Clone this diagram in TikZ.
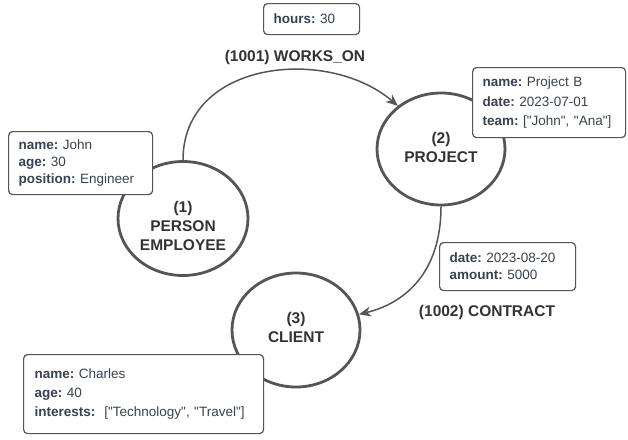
\documentclass[tikz,border=0pt]{standalone}
\usepackage{fontspec}
\setmainfont{Liberation Sans}
\usetikzlibrary{shapes.geometric,arrows.meta}
\definecolor{ink}{HTML}{333333}
\definecolor{edge}{HTML}{555555}
\definecolor{val}{HTML}{3A4150}
\frenchspacing
% straight double quotes around a string value
\newcommand{\qs}[1]{\textquotedbl#1\textquotedbl}

\begin{document}
\begin{tikzpicture}[x=1pt,y=-1pt,
  entity/.style={draw=edge, line width=2.8pt, ellipse, minimum width=128pt,
    minimum height=112pt, inner sep=0pt},
  etext/.style={text=ink, font=\fontsize{15.5}{19}\selectfont\bfseries,
    align=center, inner sep=0pt},
  props/.style={draw=edge, line width=1.2pt, rounded corners=4pt, fill=white,
    text=val, align=left, anchor=north west, inner xsep=10pt, inner ysep=0pt},
  rel/.style={draw=edge, line width=1.5pt, -{Stealth[length=12pt,width=10pt]}},
  rtext/.style={text=ink, font=\fontsize{15.5}{19}\selectfont\bfseries, inner sep=0pt}]

\useasboundingbox (0,0) rectangle (628,439);
\fill[white] (0,0) rectangle (628,439);

% entities
\node[entity, minimum width=130pt, minimum height=114pt] (p) at (183,218.5) {};
\node[etext] (ptext) at (183,226) {(1)\\PERSON\\EMPLOYEE};
\node[entity] (proj) at (441,149) {};
\node[etext] (projtext) at (441,147.5) {(2)\\PROJECT};
\node[entity, minimum height=114pt] (cl) at (296,330) {};
\node[etext] (cltext) at (296,327.5) {(3)\\CLIENT};

% relationships
\draw[rel] (p.north) .. controls +(0,-100) and +(-70,-60) .. (proj.135);
\draw[rel] (proj.south) .. controls +(0,70) and +(42,-10) .. (cl.14);

\node[rtext] (wlabel) at (295,57) {(1001) WORKS\_ON};
\node[rtext] (clabel) at (487,312) {(1002) CONTRACT};

% property boxes
\node[props, minimum width=96pt, minimum height=31pt, text width=76pt,
  font=\fontsize{13.5}{17}\selectfont] (wprops) at (263,3)
  {\textbf{hours:} 30};
\node[props, minimum width=153pt, minimum height=70pt, text width=133pt,
  font=\fontsize{13.5}{19.5}\selectfont] (projprops) at (472,67)
  {\textbf{name:} Project B\\\textbf{date:} 2023-07-01\\\textbf{team:} [\qs{John}, \qs{Ana}]};
\node[props, minimum width=144pt, minimum height=63pt, text width=124pt,
  font=\fontsize{13.5}{17}\selectfont] (pprops) at (8,131)
  {\textbf{name:} John\\\textbf{age:} 30\\\textbf{position:} Engineer};
\node[props, minimum width=136pt, minimum height=48pt, text width=116pt,
  font=\fontsize{13.5}{17}\selectfont] (cprops) at (439,242)
  {\textbf{date:} 2023-08-20\\\textbf{amount:} 5000};
\node[props, minimum width=240pt, minimum height=79pt, text width=218pt,
  inner xsep=11pt, font=\fontsize{13.5}{19}\selectfont] (clprops) at (23,354)
  {\textbf{name:} Charles\\\textbf{age:} 40\\\textbf{interests:}\ \ [\qs{Technology}, \qs{Travel}]};
\end{tikzpicture}
\end{document}
